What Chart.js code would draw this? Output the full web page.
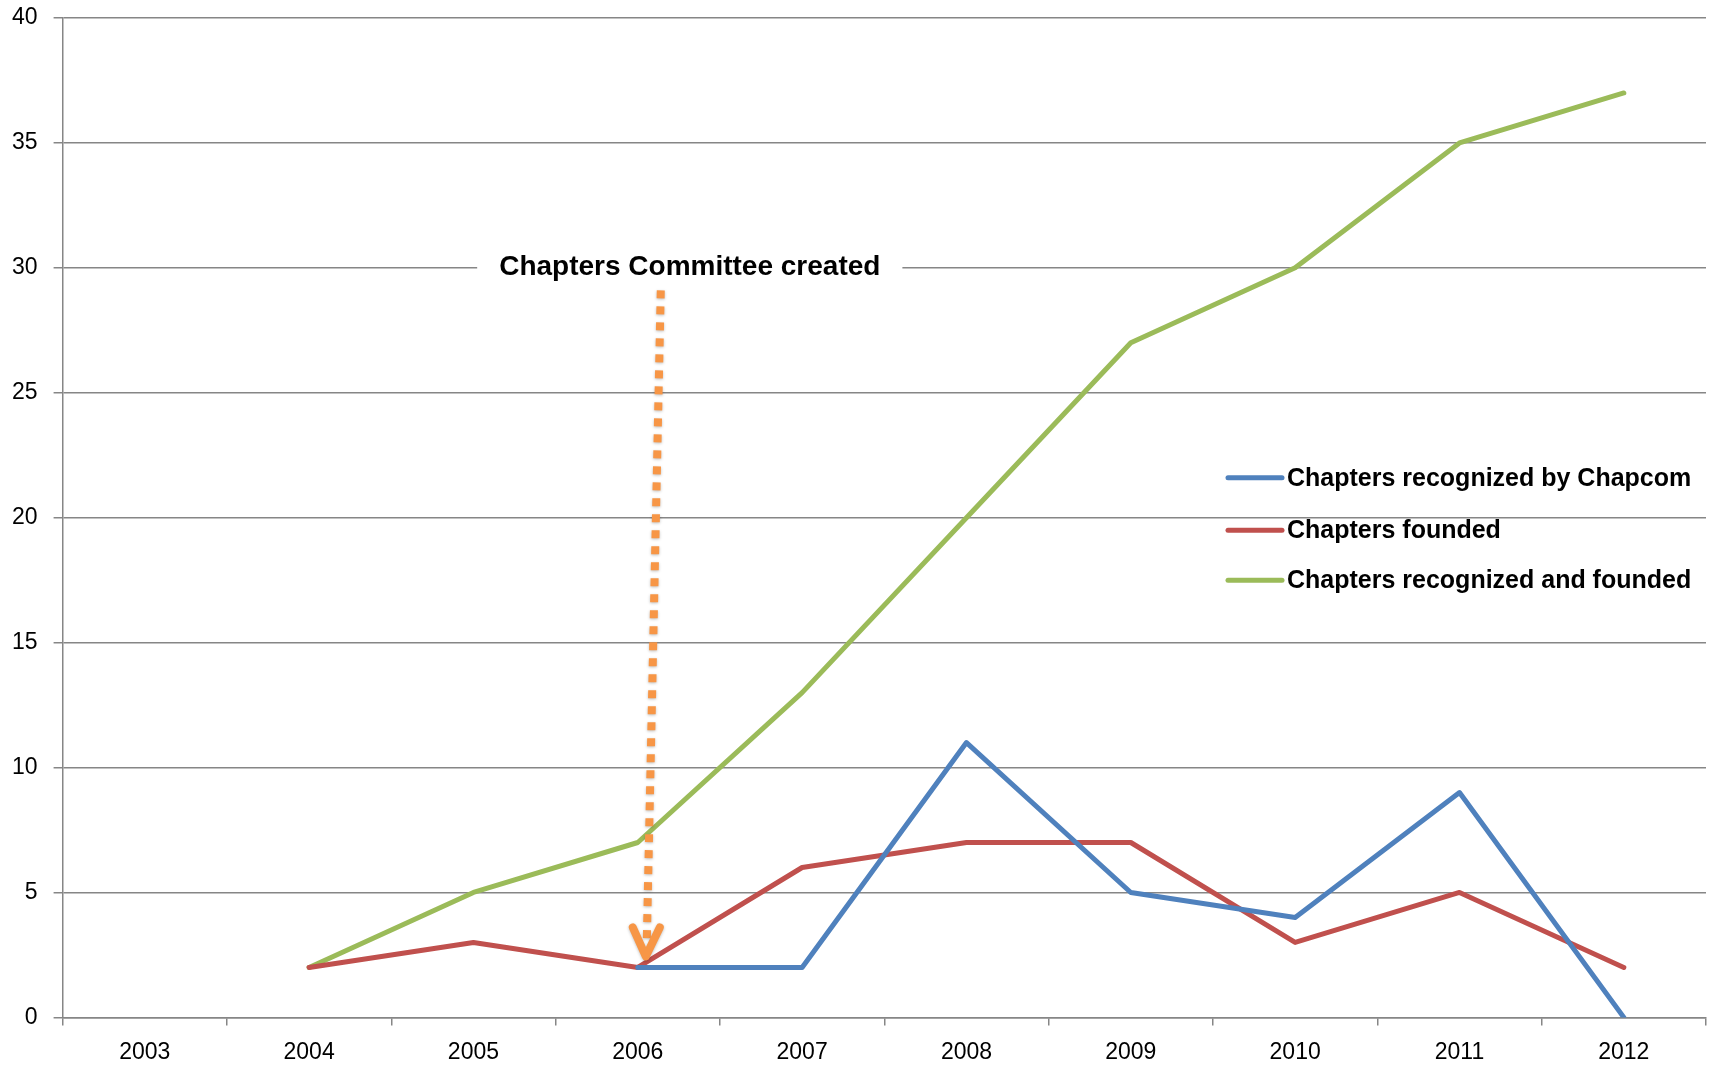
<!DOCTYPE html>
<html>
<head>
<meta charset="utf-8">
<script src="https://cdn.jsdelivr.net/npm/chart.js@4.4.1/dist/chart.umd.min.js"></script>
<style>
  html, body { margin: 0; padding: 0; background: #fff; }
  #wrap { width: 1713px; height: 1067px; }
</style>
</head>
<body>
<div id="wrap"><canvas id="chart" width="1713" height="1067"></canvas></div>
<script>
// chart data
const years = ["2003", "2004", "2005", "2006", "2007", "2008", "2009", "2010", "2011", "2012"];
const recognizedByChapcom = [null, null, null, 2, 2, 11, 5, 4, 9, 0];
const founded = [null, 2, 3, 2, 6, 7, 7, 3, 5, 2];
const recognizedAndFounded = [null, 2, 5, 7, 13, 20, 27, 30, 35, 37];
const seriesNames = ["Chapters recognized by Chapcom", "Chapters founded", "Chapters recognized and founded"];
const annotationText = "Chapters Committee created";

const FONT = "'Liberation Sans', Arial, sans-serif";
const GRID = "#868686";

// legend drawn inside the plot, right side
const legendPlugin = {
  id: "insideLegend",
  afterDraw(chart) {
    const ctx = chart.ctx;
    const y = chart.scales.y;
    const x0 = chart.chartArea.right - 478;
    const rowY = [y.getPixelForValue(21.6), y.getPixelForValue(19.5), y.getPixelForValue(17.5)];
    ctx.save();
    ctx.font = "bold 25px " + FONT;
    ctx.textBaseline = "middle";
    chart.data.datasets.forEach((ds, i) => {
      ctx.strokeStyle = ds.borderColor;
      ctx.lineWidth = 5;
      ctx.lineCap = "round";
      ctx.beginPath();
      ctx.moveTo(x0, rowY[i]);
      ctx.lineTo(x0 + 54, rowY[i]);
      ctx.stroke();
      ctx.fillStyle = "#000";
      ctx.fillText(ds.label, x0 + 59, rowY[i] + 1);
    });
    ctx.restore();
  }
};

// text label and dotted arrow pointing at 2006
const annotationPlugin = {
  id: "committeeNote",
  afterDraw(chart) {
    const ctx = chart.ctx;
    const xs = chart.scales.x, ys = chart.scales.y;
    const cx = xs.getPixelForValue(3);
    const tipY = ys.getPixelForValue(2) - 11;
    ctx.save();
    // label with white box over the gridline
    ctx.font = "bold 28px " + FONT;
    const tw = ctx.measureText(annotationText).width;
    const tx = cx + 52, ty = ys.getPixelForValue(30) - 2;
    ctx.fillStyle = "#fff";
    ctx.fillRect(tx - tw / 2 - 22, ty - 20, tw + 44, 40);
    ctx.fillStyle = "#000";
    ctx.textAlign = "center";
    ctx.textBaseline = "middle";
    ctx.fillText(annotationText, tx, ty + 1);
    // dotted shaft
    ctx.shadowColor = "rgba(0,0,0,0.25)";
    ctx.shadowBlur = 3;
    ctx.shadowOffsetY = 1;
    ctx.strokeStyle = "#F79646";
    ctx.lineWidth = 8;
    ctx.setLineDash([8, 8]);
    ctx.beginPath();
    ctx.moveTo(cx + 23, ys.getPixelForValue(29.1));
    ctx.lineTo(cx + 9, tipY - 14);
    ctx.stroke();
    // head
    ctx.setLineDash([]);
    ctx.lineCap = "round";
    ctx.lineJoin = "round";
    ctx.beginPath();
    ctx.moveTo(cx - 5, tipY - 29);
    ctx.lineTo(cx + 8, tipY);
    ctx.lineTo(cx + 22, tipY - 29);
    ctx.stroke();
    ctx.restore();
  }
};

new Chart(document.getElementById("chart"), {
  type: "line",
  data: {
    labels: years,
    datasets: [
      { label: seriesNames[0], data: recognizedByChapcom, borderColor: "#4F81BD", backgroundColor: "#4F81BD" },
      { label: seriesNames[1], data: founded, borderColor: "#C0504D", backgroundColor: "#C0504D" },
      { label: seriesNames[2], data: recognizedAndFounded, borderColor: "#9BBB59", backgroundColor: "#9BBB59" }
    ]
  },
  options: {
    responsive: false,
    animation: false,
    layout: { padding: { left: -4, right: 7, top: 18, bottom: -12 } },
    elements: {
      line: { borderWidth: 5, tension: 0, borderCapStyle: "round", borderJoinStyle: "round" },
      point: { radius: 0, hoverRadius: 0 }
    },
    plugins: { legend: { display: false }, tooltip: { enabled: false } },
    scales: {
      x: {
        offset: true,
        grid: { offset: true, drawOnChartArea: false, drawTicks: true, tickLength: 8, color: GRID, lineWidth: 1.5 },
        border: { display: true, color: GRID, width: 1.5 },
        ticks: { color: "#000", font: { family: FONT, size: 23 }, padding: 13, maxRotation: 0 }
      },
      y: {
        min: 0,
        max: 40,
        afterFit(scale) { scale.paddingTop = 0; },
        ticks: { stepSize: 5, color: "#000", font: { family: FONT, size: 23 }, padding: 16 },
        grid: { color: GRID, lineWidth: 1.5, tickLength: 9 },
        border: { display: true, color: GRID, width: 1.5 }
      }
    }
  },
  plugins: [legendPlugin, annotationPlugin]
});
</script>
</body>
</html>
